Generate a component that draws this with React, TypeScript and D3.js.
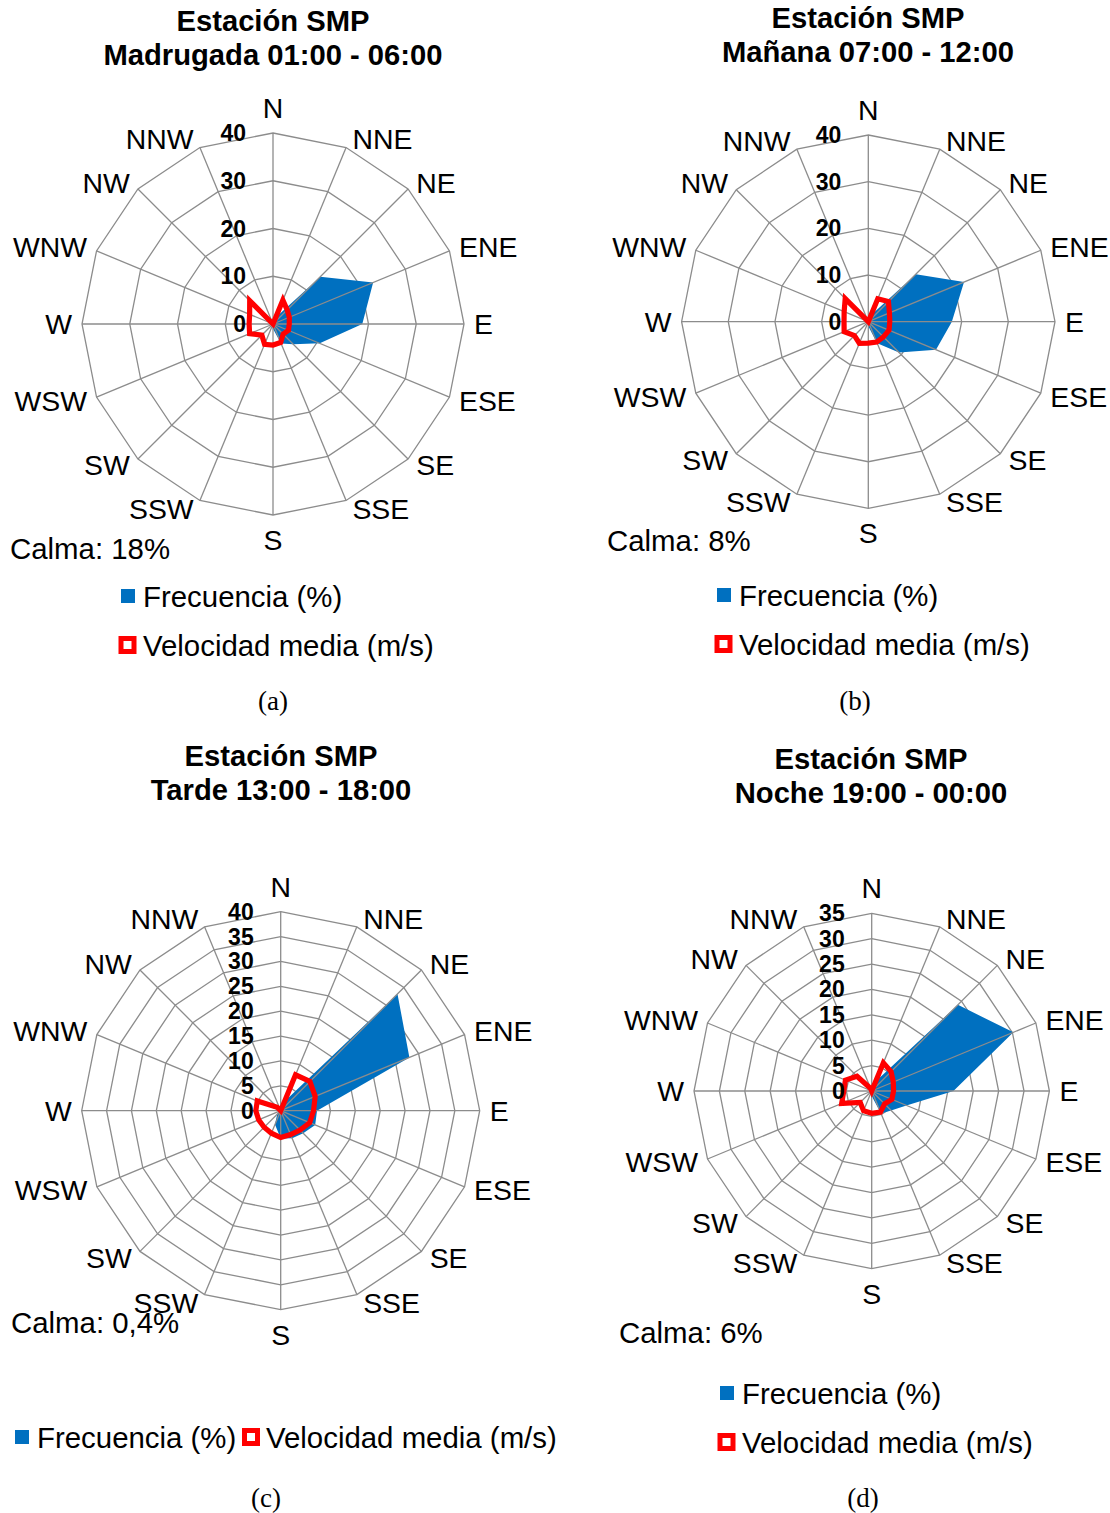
import React from "react";
import * as d3 from "d3";

// Wind direction sectors, clockwise from north
const directions = ["N", "NNE", "NE", "ENE", "E", "ESE", "SE", "SSE", "S", "SSW", "SW", "WSW", "W", "WNW", "NW", "NNW"];

// Frequency (%) per sector
const freqMadrugada = [0, 1.5, 14, 22.7, 18.7, 10.6, 6, 4.4, 1, 0.5, 0.5, 0.5, 0.5, 0.5, 0.5, 0.3];
const freqManana = [0, 1.5, 14.4, 22.2, 17.9, 15.7, 9.3, 5, 1, 0.5, 0.5, 0.5, 0.5, 0.5, 0.5, 0.3];
const freqTarde = [0.3, 2, 33.2, 28, 7.3, 7.5, 6.4, 6, 5.6, 3, 1, 0.3, 0.2, 0.2, 0.2, 0.2];
const freqNoche = [0, 2, 24, 30.2, 16.1, 7.4, 5.4, 4.8, 1, 0.5, 0.5, 0.5, 0.5, 0.5, 0.5, 0.3];

// Mean wind speed (m/s) per sector
const speedMadrugada = [0, 5.4, 4.2, 3.7, 3.4, 3.5, 3.0, 4.2, 4.4, 4.6, 3.3, 5.3, 5.0, 5.3, 6.9, 0];
const speedManana = [0, 5.3, 6.1, 4.9, 4.6, 4.8, 4.6, 4.7, 4.6, 5.0, 4.2, 5.6, 5.2, 5.6, 7.0, 0];
const speedTarde = [0, 7.8, 8.3, 7.5, 6.6, 6.3, 5.5, 5.2, 5.4, 4.9, 4.7, 4.8, 5.0, 5.1, 1, 0];
const speedNoche = [0, 6.0, 5.4, 4.6, 4.3, 4.3, 3.6, 4.5, 4.4, 4.2, 3.2, 6.4, 5.5, 5.6, 4.1, 0.5];

// Radial axis ticks
const ticks40by10 = [0, 10, 20, 30, 40];
const ticks40by5 = [0, 5, 10, 15, 20, 25, 30, 35, 40];
const ticks35by5 = [0, 5, 10, 15, 20, 25, 30, 35];

// Titles, calm percentages and captions
const titleStation = "Estación SMP";
const periods = ["Madrugada 01:00 - 06:00", "Mañana 07:00 - 12:00", "Tarde 13:00 - 18:00", "Noche 19:00 - 00:00"];
const calmas = ["Calma: 18%", "Calma: 8%", "Calma: 0,4%", "Calma: 6%"];
const captions = ["(a)", "(b)", "(c)", "(d)"];
const seriesNames = ["Frecuencia (%)", "Velocidad media (m/s)"];

const SANS = "'Liberation Sans', Arial, Helvetica, sans-serif";
const SERIF = "'Liberation Serif', 'Times New Roman', serif";
const GRID = "#8c8c8c";
const BLUE = "#0070C0";
const RED = "#FF0000";
const FS = 29.4;
const TITLE_FS = 29.2;

type Legend =
  | { kind: "stacked"; squareX: number; textX: number; y1: number; y2: number }
  | { kind: "inline"; y: number; sq1: number; tx1: number; sq2: number; tx2: number };

interface PanelProps {
  cx: number;
  cy: number;
  radius: number;
  ticks: number[];
  freq: number[];
  speed: number[];
  period: string;
  titleX: number;
  titleY: number;
  calma: string;
  calmaX: number;
  calmaY: number;
  legend: Legend;
  caption: string;
  captionX: number;
  captionY: number;
}

function BlueMarker({ x, y }: { x: number; y: number }) {
  return <rect x={x} y={y - 7} width={14} height={14} fill={BLUE} />;
}

function RedMarker({ x, y }: { x: number; y: number }) {
  return <rect x={x + 2.5} y={y - 6.5} width={13} height={13} fill="#fff" stroke={RED} strokeWidth={5} />;
}

function RosePanel(p: PanelProps) {
  const max = p.ticks[p.ticks.length - 1];
  const r = d3.scaleLinear().domain([0, max]).range([0, p.radius]);
  const n = directions.length;
  const angle = (i: number) => (i * 2 * Math.PI) / n;

  const radial = d3
    .lineRadial<number>()
    .angle((_, i) => angle(i))
    .radius((d) => r(d))
    .curve(d3.curveLinearClosed);

  const ringPath = (v: number) => radial(directions.map(() => v)) as string;

  return (
    <g>
      {/* title */}
      <text x={p.titleX} y={p.titleY} textAnchor="middle" dominantBaseline="central" fontFamily={SANS} fontWeight="bold" fontSize={TITLE_FS}>
        {titleStation}
      </text>
      <text x={p.titleX} y={p.titleY + 34} textAnchor="middle" dominantBaseline="central" fontFamily={SANS} fontWeight="bold" fontSize={TITLE_FS}>
        {p.period}
      </text>

      <g transform={`translate(${p.cx},${p.cy})`}>
        {/* ring gridlines */}
        {p.ticks.slice(1).map((v) => (
          <path key={v} d={ringPath(v)} fill="none" stroke={GRID} strokeWidth={1.3} />
        ))}
        {/* frequency area */}
        <path d={radial(p.freq) as string} fill={BLUE} stroke="none" />
        {/* spokes */}
        {directions.map((dname, i) => {
          const a = angle(i);
          return (
            <line
              key={dname}
              x1={0}
              y1={0}
              x2={r(max) * Math.sin(a)}
              y2={-r(max) * Math.cos(a)}
              stroke={GRID}
              strokeWidth={1.3}
            />
          );
        })}
        {/* mean speed outline */}
        <path d={radial(p.speed) as string} fill="none" stroke={RED} strokeWidth={5.2} strokeLinejoin="miter" />

        {/* direction labels */}
        {directions.map((dname, i) => {
          const a = angle(i);
          const s = Math.sin(a);
          const c = Math.cos(a);
          const ex = r(max) * s;
          const ey = -r(max) * c;
          let anchor = "middle";
          let x = ex;
          let y = ey;
          if (Math.abs(s) < 0.01) {
            y = ey + (c > 0 ? -25 : 25);
          } else {
            anchor = s > 0 ? "start" : "end";
            x = ex + Math.sign(s) * (4 + 6 * Math.abs(s));
            y = ey - c * 9;
          }
          return (
            <text key={dname} x={x} y={y} textAnchor={anchor} dominantBaseline="central" fontFamily={SANS} fontSize={FS - 1}>
              {dname}
            </text>
          );
        })}

        {/* radial tick labels */}
        {p.ticks.map((v) => (
          <text key={v} x={-27} y={-r(v)} textAnchor="end" dominantBaseline="central" fontFamily={SANS} fontWeight="bold" fontSize={23}>
            {v}
          </text>
        ))}
      </g>

      {/* calm */}
      <text x={p.calmaX} y={p.calmaY} dominantBaseline="central" fontFamily={SANS} fontSize={FS}>
        {p.calma}
      </text>

      {/* legend */}
      {p.legend.kind === "stacked" ? (
        <g>
          <BlueMarker x={p.legend.squareX} y={p.legend.y1} />
          <text x={p.legend.textX} y={p.legend.y1} dominantBaseline="central" fontFamily={SANS} fontSize={FS}>
            {seriesNames[0]}
          </text>
          <RedMarker x={p.legend.squareX - 2.5} y={p.legend.y2} />
          <text x={p.legend.textX} y={p.legend.y2} dominantBaseline="central" fontFamily={SANS} fontSize={FS}>
            {seriesNames[1]}
          </text>
        </g>
      ) : (
        <g>
          <BlueMarker x={p.legend.sq1} y={p.legend.y} />
          <text x={p.legend.tx1} y={p.legend.y} dominantBaseline="central" fontFamily={SANS} fontSize={FS}>
            {seriesNames[0]}
          </text>
          <RedMarker x={p.legend.sq2} y={p.legend.y} />
          <text x={p.legend.tx2} y={p.legend.y} dominantBaseline="central" fontFamily={SANS} fontSize={FS}>
            {seriesNames[1]}
          </text>
        </g>
      )}

      {/* caption */}
      <text x={p.captionX} y={p.captionY} textAnchor="middle" dominantBaseline="central" fontFamily={SERIF} fontSize={27}>
        {p.caption}
      </text>
    </g>
  );
}

export default function App() {
  return (
    <svg
      width={1110}
      height={1513}
      viewBox="0 0 1110 1513"
      style={{ position: "absolute", left: 0, top: 0, background: "#fff" }}
    >
      <rect width={1110} height={1513} fill="#fff" />
      <RosePanel
        cx={273}
        cy={324}
        radius={191}
        ticks={ticks40by10}
        freq={freqMadrugada}
        speed={speedMadrugada}
        period={periods[0]}
        titleX={273}
        titleY={21}
        calma={calmas[0]}
        calmaX={10}
        calmaY={548}
        legend={{ kind: "stacked", squareX: 121, textX: 143, y1: 596, y2: 645 }}
        caption={captions[0]}
        captionX={273}
        captionY={701}
      />
      <RosePanel
        cx={868.3}
        cy={321.7}
        radius={186.7}
        ticks={ticks40by10}
        freq={freqManana}
        speed={speedManana}
        period={periods[1]}
        titleX={868}
        titleY={18}
        calma={calmas[1]}
        calmaX={607}
        calmaY={540}
        legend={{ kind: "stacked", squareX: 717, textX: 739, y1: 595, y2: 644 }}
        caption={captions[1]}
        captionX={855}
        captionY={701}
      />
      <RosePanel
        cx={280.7}
        cy={1110.7}
        radius={199}
        ticks={ticks40by5}
        freq={freqTarde}
        speed={speedTarde}
        period={periods[2]}
        titleX={281}
        titleY={756}
        calma={calmas[2]}
        calmaX={11}
        calmaY={1322}
        legend={{ kind: "inline", y: 1437, sq1: 15, tx1: 37, sq2: 242, tx2: 266 }}
        caption={captions[2]}
        captionX={266}
        captionY={1498}
      />
      <RosePanel
        cx={871.7}
        cy={1091}
        radius={177.7}
        ticks={ticks35by5}
        freq={freqNoche}
        speed={speedNoche}
        period={periods[3]}
        titleX={871}
        titleY={759}
        calma={calmas[3]}
        calmaX={619}
        calmaY={1332}
        legend={{ kind: "stacked", squareX: 720, textX: 742, y1: 1393, y2: 1442 }}
        caption={captions[3]}
        captionX={863}
        captionY={1498}
      />
    </svg>
  );
}
